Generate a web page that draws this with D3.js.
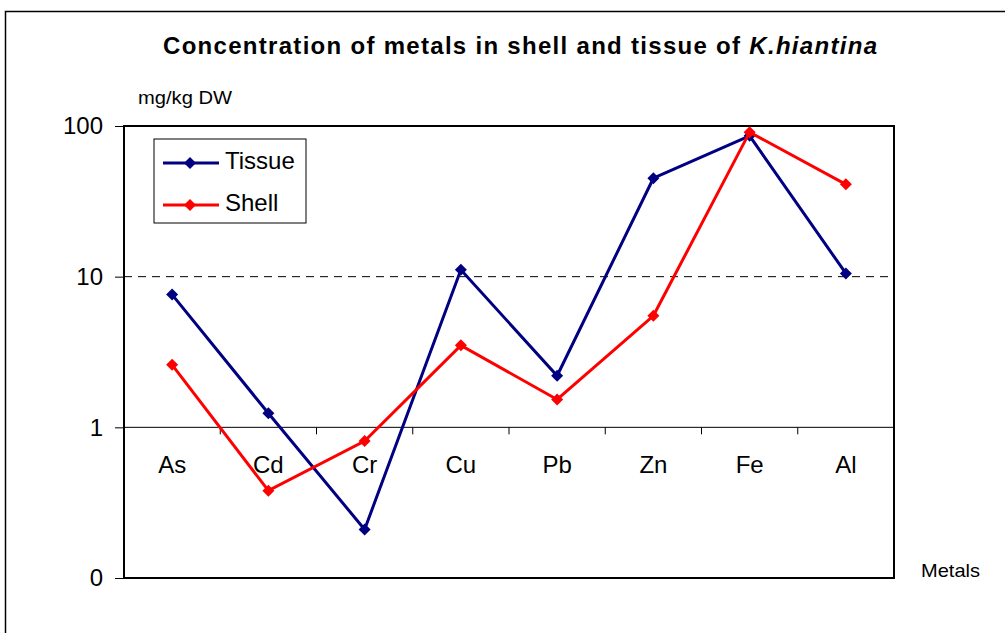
<!DOCTYPE html>
<html>
<head>
<meta charset="utf-8">
<script src="https://cdn.jsdelivr.net/npm/d3@7"></script>
<style>
  body { margin: 0; background: #fff; }
  text { font-family: Arial, "Liberation Sans", sans-serif; }
</style>
</head>
<body>
<div id="chart"></div>
<script>
var metals = ["As", "Cd", "Cr", "Cu", "Pb", "Zn", "Fe", "Al"];
var tissue = [7.6, 1.24, 0.21, 11.1, 2.2, 45, 86, 10.5];
var shell = [2.6, 0.38, 0.81, 3.5, 1.53, 5.5, 91, 41];
var yTicks = [0.1, 1, 10, 100];
var yTickLabels = ["0", "1", "10", "100"];

var svgWidth = 1005;
var svgHeight = 633;

var margin = { top: 126, right: 111, bottom: 55, left: 124 };
var width = svgWidth - margin.left - margin.right;
var height = svgHeight - margin.top - margin.bottom;

var svg = d3.select("#chart")
  .append("svg")
  .attr("width", svgWidth)
  .attr("height", svgHeight);

// outer frame
svg.append("rect")
  .attr("x", 5.5).attr("y", 11.5)
  .attr("width", 1020).attr("height", 640)
  .attr("fill", "none").attr("stroke", "#000").attr("stroke-width", 1.5);

svg.append("text")
  .attr("x", 163).attr("y", 54)
  .attr("font-size", "24px").attr("font-weight", "bold")
  .attr("textLength", 714).attr("lengthAdjust", "spacing")
  .html('Concentration of metals in shell and tissue of <tspan font-style="italic">K.hiantina</tspan>');

svg.append("text")
  .attr("x", 138).attr("y", 104)
  .attr("font-size", "18px")
  .attr("textLength", 94).attr("lengthAdjust", "spacingAndGlyphs")
  .text("mg/kg DW");

svg.append("text")
  .attr("x", 921).attr("y", 577)
  .attr("font-size", "19px")
  .attr("textLength", 59).attr("lengthAdjust", "spacingAndGlyphs")
  .text("Metals");

var chartGroup = svg.append("g")
  .attr("transform", `translate(${margin.left}, ${margin.top})`);

var xScale = d3.scaleBand()
  .domain(metals)
  .range([0, width]);

var yScale = d3.scaleLog()
  .domain([0.1, 100])
  .range([height, 0]);

// gridline at 10 dashed
chartGroup.append("line")
  .attr("x1", 0).attr("x2", width)
  .attr("y1", yScale(10)).attr("y2", yScale(10))
  .attr("stroke", "#000").attr("stroke-width", 1)
  .attr("stroke-dasharray", "8,6");

// plot border
chartGroup.append("rect")
  .attr("x", 0).attr("y", 0)
  .attr("width", width).attr("height", height)
  .attr("fill", "none").attr("stroke", "#000").attr("stroke-width", 2);

// left axis
var leftAxis = d3.axisLeft(yScale)
  .tickValues(yTicks)
  .tickFormat((d, i) => yTickLabels[i])
  .tickSize(9)
  .tickPadding(12);

var yAxisG = chartGroup.append("g").call(leftAxis);
yAxisG.select(".domain").remove();
yAxisG.selectAll("text").attr("font-size", "24px").attr("font-family", "Arial, 'Liberation Sans', sans-serif").attr("fill", "#000");
yAxisG.selectAll("line").attr("stroke", "#000");

// category axis crossing at 1
var bottomAxis = d3.axisBottom(xScale).tickSize(0).tickPadding(29);
var xAxisG = chartGroup.append("g")
  .attr("transform", `translate(0, ${yScale(1)})`)
  .call(bottomAxis);
xAxisG.select(".domain").attr("stroke", "#000").attr("d", `M0,0H${width}`);
xAxisG.selectAll("text").attr("font-size", "24px").attr("font-family", "Arial, 'Liberation Sans', sans-serif").attr("fill", "#000");

// ticks between categories
xAxisG.selectAll(".sep")
  .data(metals.slice(1))
  .enter().append("line")
  .attr("x1", d => xScale(d)).attr("x2", d => xScale(d))
  .attr("y1", 0).attr("y2", 7)
  .attr("stroke", "#000");

var series = [
  { name: "Tissue", values: tissue, color: "#000080" },
  { name: "Shell", values: shell, color: "#ff0000" }
];

var line = d3.line()
  .x((d, i) => xScale(metals[i]) + xScale.bandwidth() / 2)
  .y(d => yScale(d));

// square turned 45 degrees, like the excel diamond marker
var diamond = d3.symbol().type(d3.symbolSquare).size(72);

series.forEach(function(s) {
  chartGroup.append("path")
    .datum(s.values)
    .attr("d", line)
    .attr("fill", "none")
    .attr("stroke", s.color)
    .attr("stroke-width", 3);

  chartGroup.selectAll(".pt-" + s.name)
    .data(s.values)
    .enter().append("path")
    .attr("d", diamond)
    .attr("transform", (d, i) => `translate(${xScale(metals[i]) + xScale.bandwidth() / 2}, ${yScale(d)}) rotate(45)`)
    .attr("fill", s.color);
});

// legend
var legend = svg.append("g").attr("transform", "translate(154, 139)");
legend.append("rect")
  .attr("width", 152).attr("height", 84)
  .attr("fill", "#fff").attr("stroke", "#000").attr("stroke-width", 1);

series.forEach(function(s, i) {
  var yy = 24 + i * 42;
  legend.append("line")
    .attr("x1", 9).attr("x2", 65)
    .attr("y1", yy).attr("y2", yy)
    .attr("stroke", s.color).attr("stroke-width", 3);
  legend.append("path")
    .attr("d", diamond)
    .attr("transform", `translate(36, ${yy}) rotate(45)`)
    .attr("fill", s.color);
  legend.append("text")
    .attr("x", 71).attr("y", yy + 6)
    .attr("font-size", "24px")
    .text(s.name);
});
</script>
</body>
</html>
